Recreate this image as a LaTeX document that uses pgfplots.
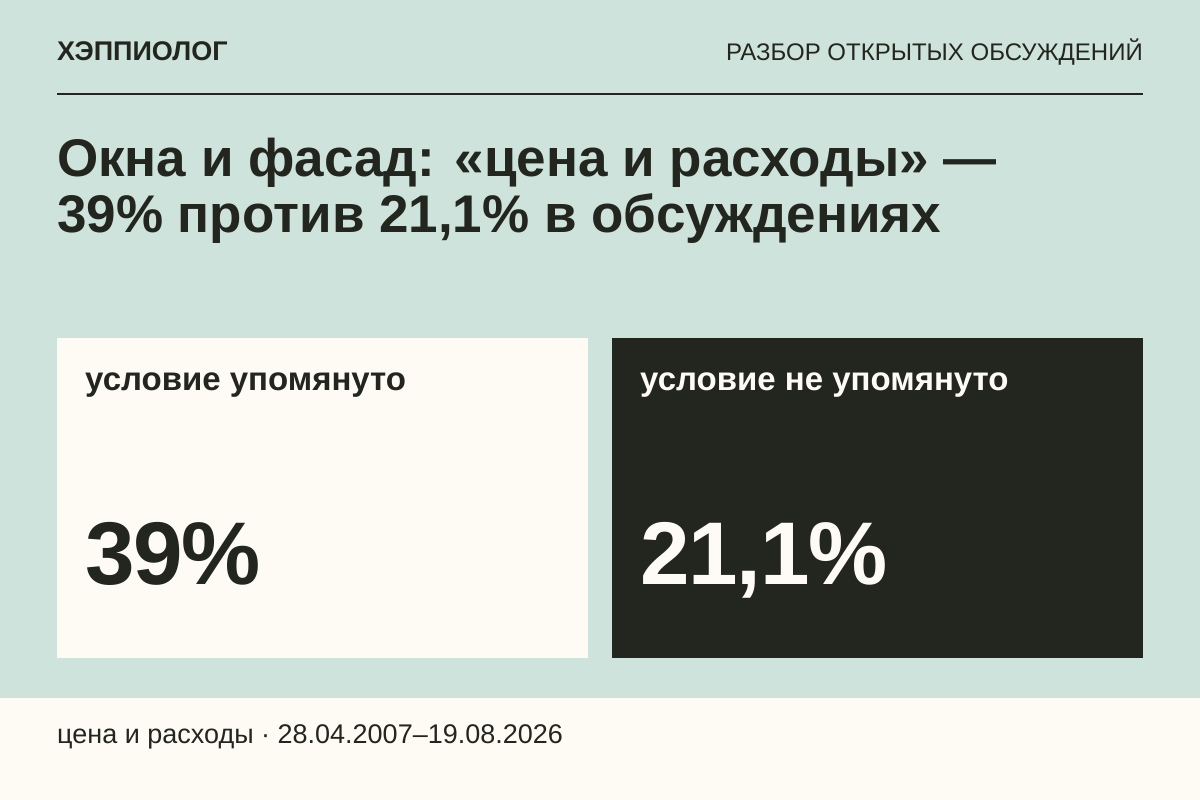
\documentclass[border=0pt]{standalone}
\usepackage{pgfplots}
\pgfplotsset{compat=1.18}
\usepackage{fontspec}
\setmainfont{Liberation Sans}
\definecolor{mint}{HTML}{CDE3DB}
\definecolor{ink}{HTML}{23261F}
\definecolor{paper}{HTML}{FDFBF4}
\newcommand{\fs}[1]{\fontsize{#1bp}{#1bp}\selectfont}

\begin{document}
\begin{tikzpicture}
\begin{axis}[
	hide axis, scale only axis,
	width=1200bp, height=800bp,
	xmin=0, xmax=1200, ymin=0, ymax=800,
	y dir=reverse, clip=false,
	every node near coord/.append style={anchor=base west, inner sep=0pt},
]
% background, footer strip, two panels
\fill[mint] (0,0) rectangle (1200,800);
\fill[paper] (0,698) rectangle (1200,800);
\fill[paper] (57,338) rectangle (588,658);
\fill[ink] (612,338) rectangle (1143,658);
\draw[ink, line width=2bp] (57,94) -- (1143,94);

% header
\node[anchor=base west, inner sep=0pt, text=ink, font=\bfseries\fs{27}] at (57,61) {ХЭППИОЛОГ};
\node[anchor=base east, inner sep=0pt, text=ink, font=\fs{24}] at (1143,61) {РАЗБОР ОТКРЫТЫХ ОБСУЖДЕНИЙ};

% title
\node[anchor=base west, inner sep=0pt, text=ink, font=\bfseries\fs{53}] at (57,176) {Окна и фасад: «цена и расходы» —};
\node[anchor=base west, inner sep=0pt, text=ink, font=\bfseries\fs{53}] at (57,232) {39\% против 21,1\% в обсуждениях};

% panel labels
\node[anchor=base west, inner sep=0pt, text=ink, font=\bfseries\fs{33}] at (85,390) {условие упомянуто};
\node[anchor=base west, inner sep=0pt, text=paper, font=\bfseries\fs{33}] at (640,390) {условие не упомянуто};

% values
\addplot[draw=none, mark=none, nodes near coords, point meta=explicit symbolic,
	nodes near coords style={font=\bfseries\fs{89}\addfontfeatures{LetterSpace=-1.5}, text=ink}]
	coordinates {(85,584) [39\%]};
\addplot[draw=none, mark=none, nodes near coords, point meta=explicit symbolic,
	nodes near coords style={font=\bfseries\fs{89}\addfontfeatures{LetterSpace=-1.5}, text=paper}]
	coordinates {(640,584) [{21,1\%}]};

% footer
\node[anchor=base west, inner sep=0pt, text=ink, font=\fs{27}] at (57,743) {цена и расходы · 28.04.2007–19.08.2026};
\end{axis}
\end{tikzpicture}
\end{document}
